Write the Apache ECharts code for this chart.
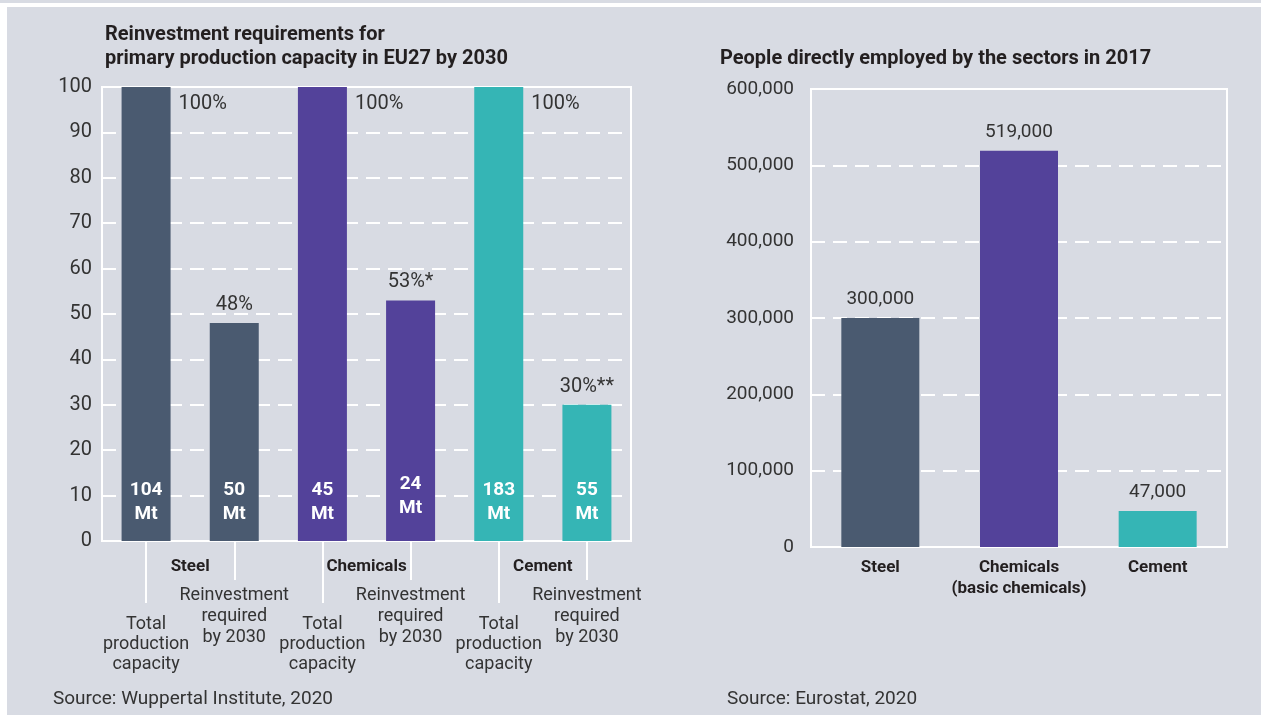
<!DOCTYPE html>
<html>
<head>
<meta charset="utf-8">
<title>EU27 steel, chemicals and cement: reinvestment needs and employment</title>
<script src="https://cdn.jsdelivr.net/npm/echarts@6/dist/echarts.min.js"></script>
<style>
  html, body { margin: 0; padding: 0; background: #ffffff; width: 1261px; height: 715px; overflow: hidden; }
  #topline { position: absolute; left: 0; top: 0; width: 1261px; height: 3px; background: #d8dbe3; }
  #chart { position: absolute; left: 7px; top: 7px; width: 1254px; height: 708px; }
</style>
</head>
<body>
<div id="topline"></div>
<div id="chart"></div>
<script>
// ---- Left panel: reinvestment requirements (share of primary capacity, %) ----
const sectors = ['Steel', 'Chemicals', 'Cement'];
const barKeys = ['Steel total', 'Steel reinvestment', 'Chemicals total', 'Chemicals reinvestment', 'Cement total', 'Cement reinvestment'];
const shareOfCapacity = [100, 48, 100, 53, 100, 30];
const shareLabels = ['100%', '48%', '100%', '53%*', '100%', '30%**'];
const capacityMt = [104, 50, 45, 24, 183, 55];
const totalLabel = 'Total\nproduction\ncapacity';
const reinvestLabel = 'Reinvestment\nrequired\nby 2030';
const shareTicks = { min: 0, max: 100, interval: 10 };

// ---- Right panel: people directly employed in 2017 ----
const employmentSectors = ['Steel', 'Chemicals\n(basic chemicals)', 'Cement'];
const employees = [300000, 519000, 47000];
const employeeTicks = { min: 0, max: 600000, interval: 100000 };

const sectorColors = { Steel: '#4a5a70', Chemicals: '#53429a', Cement: '#35b5b5' };
const FONT = 'Roboto, "Liberation Sans", sans-serif';
const TEXT = '#333333';
const DARK = '#231f20';

const fmt = v => Number(v).toLocaleString('en-US');
const isTotal = i => i % 2 === 0;
const isReinvest = i => i % 2 === 1;
const colorOf = i => sectorColors[sectors[Math.floor(i / 2)]];

const chart = echarts.init(document.getElementById('chart'), null, { renderer: 'canvas' });

const gridLine = { show: true, lineStyle: { color: '#ffffff', width: 2, type: [14, 8] } };
const titleText = { fontFamily: FONT, fontSize: 20, fontWeight: 'bold', color: DARK, lineHeight: 24 };
const sourceText = { fontFamily: FONT, fontSize: 19, fontWeight: 'normal', color: TEXT, lineHeight: 22 };

chart.setOption({
  backgroundColor: '#d8dbe3',
  animation: false,
  textStyle: { fontFamily: FONT },
  title: [
    {
      text: 'Reinvestment requirements for\nprimary production capacity in EU27 by 2030',
      left: 98, top: 16, padding: 0, textStyle: titleText
    },
    {
      text: 'People directly employed by the sectors in 2017',
      left: 713, top: 40, padding: 0, textStyle: titleText
    },
    { text: 'Source: Wuppertal Institute, 2020', left: 46, top: 681, padding: 0, textStyle: sourceText },
    { text: 'Source: Eurostat, 2020', left: 720, top: 681, padding: 0, textStyle: sourceText }
  ],
  grid: [
    { left: 95, top: 80, width: 529, height: 454, show: true, borderColor: '#ffffff', borderWidth: 2, backgroundColor: 'transparent' },
    { left: 804, top: 82, width: 416, height: 458, show: true, borderColor: '#ffffff', borderWidth: 2, backgroundColor: 'transparent' }
  ],
  xAxis: [
    {
      // bars + "Total production capacity" captions
      type: 'category', gridIndex: 0, position: 'bottom', data: barKeys,
      axisLine: { show: true, onZero: false, lineStyle: { color: '#ffffff', width: 2 } },
      axisTick: { show: true, alignWithLabel: true, length: 62, interval: (i) => isTotal(i), lineStyle: { color: '#ffffff', width: 2 } },
      axisLabel: {
        interval: (i) => isTotal(i), formatter: () => totalLabel,
        margin: 73, fontSize: 18, lineHeight: 20, color: TEXT, fontFamily: FONT
      }
    },
    {
      // "Reinvestment required by 2030" captions
      type: 'category', gridIndex: 0, position: 'bottom', offset: 0, data: barKeys,
      axisLine: { show: false, onZero: false },
      axisTick: { show: true, alignWithLabel: true, length: 39, interval: (i) => isReinvest(i), lineStyle: { color: '#ffffff', width: 2 } },
      axisLabel: {
        interval: (i) => isReinvest(i), formatter: () => reinvestLabel,
        margin: 44, fontSize: 18, lineHeight: 21, color: TEXT, fontFamily: FONT
      }
    },
    {
      // sector names between each pair of bars
      type: 'category', gridIndex: 0, position: 'bottom', offset: 0, data: sectors,
      axisLine: { show: false, onZero: false }, axisTick: { show: false },
      axisLabel: { interval: 0, margin: 17, fontSize: 17, fontWeight: 'bold', color: DARK, fontFamily: FONT }
    },
    {
      type: 'category', gridIndex: 1, position: 'bottom', data: employmentSectors,
      axisLine: { show: true, onZero: false, lineStyle: { color: '#ffffff', width: 2 } },
      axisTick: { show: false },
      axisLabel: { interval: 0, margin: 10, fontSize: 17, fontWeight: 'bold', lineHeight: 21, color: DARK, fontFamily: FONT }
    }
  ],
  yAxis: [
    {
      type: 'value', gridIndex: 0,
      min: shareTicks.min, max: shareTicks.max, interval: shareTicks.interval,
      axisLine: { show: false }, axisTick: { show: false },
      axisLabel: { margin: 10, fontSize: 20, color: TEXT, fontFamily: FONT },
      splitLine: gridLine
    },
    {
      type: 'value', gridIndex: 1,
      min: employeeTicks.min, max: employeeTicks.max, interval: employeeTicks.interval,
      axisLine: { show: false }, axisTick: { show: false },
      axisLabel: { margin: 17, fontSize: 19, color: TEXT, fontFamily: FONT, formatter: fmt },
      splitLine: gridLine
    }
  ],
  series: [
    {
      // share of primary capacity, with % captions
      name: 'Share of capacity', type: 'bar', xAxisIndex: 0, yAxisIndex: 0,
      barWidth: 49, z: 3,
      data: shareOfCapacity.map((v, i) => ({
        value: v,
        itemStyle: { color: colorOf(i) },
        label: isTotal(i)
          ? { position: [57, 7], align: 'left', verticalAlign: 'top' }
          : { position: 'top', distance: 8 }
      })),
      label: {
        show: true, fontSize: 20, color: TEXT, fontFamily: FONT,
        formatter: (p) => shareLabels[p.dataIndex]
      }
    },
    {
      // capacity in Mt, printed inside the foot of each bar
      name: 'Capacity (Mt)', type: 'bar', xAxisIndex: 0, yAxisIndex: 0,
      barWidth: 49, barGap: '-100%', z: 4, silent: true,
      itemStyle: { color: 'rgba(0,0,0,0)' },
      data: shareOfCapacity.map((v, i) => ({
        value: v,
        label: i === 3 ? { distance: 21 } : undefined
      })),
      label: {
        show: true, position: 'insideBottom', distance: 15,
        fontSize: 19, fontWeight: 'bold', lineHeight: 24, color: '#ffffff', fontFamily: FONT,
        formatter: (p) => capacityMt[p.dataIndex] + '\nMt'
      }
    },
    {
      name: 'Employees', type: 'bar', xAxisIndex: 3, yAxisIndex: 1,
      barWidth: 78, z: 3,
      data: employees.map((v, i) => ({ value: v, itemStyle: { color: sectorColors[sectors[i]] } })),
      label: {
        show: true, position: 'top', distance: 9,
        fontSize: 19, color: TEXT, fontFamily: FONT,
        formatter: (p) => fmt(p.value)
      }
    }
  ]
});
</script>
</body>
</html>
